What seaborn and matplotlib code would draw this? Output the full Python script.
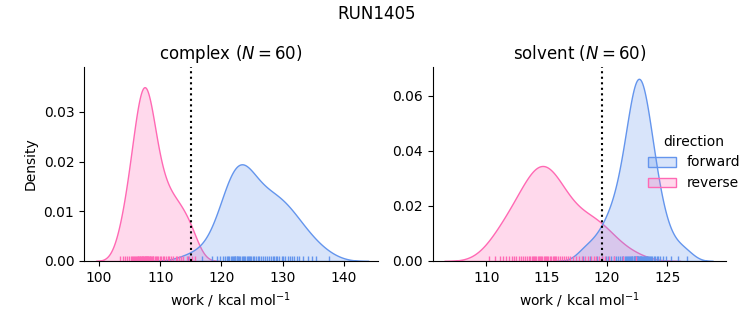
import matplotlib
matplotlib.use("Agg")
import matplotlib.pyplot as plt
import numpy as np
import pandas as pd
import seaborn as sns

# ---- data (work values read from the rug / density shapes) ----
complex_forward = [
    114.6, 116.8, 118.5,
    119.3, 119.8,
    120.3, 120.6, 120.9,
    121.1, 121.3, 121.5, 121.7, 121.9,
    122.1, 122.2, 122.3, 122.5, 122.6, 122.7, 122.9,
    123.1, 123.3, 123.5, 123.7, 123.9,
    124.1, 124.3, 124.5, 124.7, 124.9,
    125.2, 125.4, 125.6, 125.9,
    126.2, 126.5, 126.8,
    127.2, 127.5, 127.8,
    128.1, 128.4, 128.6, 128.9,
    129.1, 129.4, 129.9,
    130.1, 130.4, 130.9,
    131.2, 131.5, 131.8,
    132.3, 132.7, 133.4,
    134.2, 134.8, 135.5, 137.6,
]
complex_reverse = [
    103.4, 103.9,
    104.3, 104.6, 104.9,
    105.2, 105.4, 105.6, 105.8, 105.95,
    106.1, 106.2, 106.3, 106.45, 106.55, 106.65, 106.75, 106.85, 106.95,
    107.05, 107.15, 107.25, 107.35, 107.45, 107.55, 107.65, 107.75, 107.8,
    107.9, 107.95,
    108.05, 108.15, 108.3, 108.4, 108.5, 108.65, 108.8, 108.9,
    109.1, 109.3, 109.5, 109.7, 109.9,
    110.2, 110.45, 110.7, 110.9,
    111.2, 111.5, 111.8,
    112.1, 112.5, 112.8,
    113.1, 113.4, 113.8,
    114.3, 114.7,
    115.2, 115.7,
]
solvent_forward = [
    118.0, 118.6, 119.2, 119.6, 119.9, 120.1, 120.35, 120.6, 120.75, 120.9,
    121.1, 121.25, 121.35, 121.45,
    121.55, 121.65, 121.75, 121.8, 121.9, 121.95,
    122.05, 122.1, 122.2, 122.25, 122.3, 122.35, 122.4, 122.45, 122.48,
    122.52, 122.55, 122.6, 122.65, 122.7, 122.75, 122.8, 122.85, 122.9, 122.95,
    123.05, 123.1, 123.15, 123.2, 123.3, 123.35, 123.4, 123.45,
    123.55, 123.65, 123.75, 123.85, 123.95,
    124.1, 124.25, 124.4,
    124.6, 124.85,
    125.3, 125.9, 126.6,
]
solvent_reverse = [
    110.2, 110.7,
    111.1, 111.4, 111.6, 111.9,
    112.1, 112.3, 112.5, 112.7, 112.9,
    113.05, 113.2, 113.35, 113.5, 113.6, 113.75, 113.85, 113.95,
    114.05, 114.15, 114.25, 114.35, 114.45, 114.55, 114.65, 114.75, 114.85,
    114.95,
    115.05, 115.15, 115.25, 115.4, 115.5, 115.6, 115.7, 115.8, 115.95,
    116.1, 116.3, 116.45, 116.6, 116.75, 116.9,
    117.2, 117.45, 117.7, 117.9,
    118.15, 118.4, 118.65, 118.9,
    119.1, 119.35, 119.6, 119.85,
    120.2, 120.6, 121.3, 122.4,
]
phases = ["complex", "solvent"]
directions = ["forward", "reverse"]
estimate_complex = 115.0
estimate_solvent = 119.6
run_name = "RUN1405"

series = {
    ("complex", "forward"): complex_forward,
    ("complex", "reverse"): complex_reverse,
    ("solvent", "forward"): solvent_forward,
    ("solvent", "reverse"): solvent_reverse,
}
frames = []
for (ph, d), vals in series.items():
    frames.append(pd.DataFrame({"work": vals, "phase": ph, "direction": d}))
df = pd.concat(frames, ignore_index=True)

palette = {"forward": "cornflowerblue", "reverse": "hotpink"}

g = sns.displot(
    data=df, x="work", hue="direction", col="phase", kind="kde",
    fill=True, rug=True, palette=palette, hue_order=directions,
    col_order=phases, facet_kws=dict(sharex=False, sharey=False),
)
fig = g.figure
fig.set_size_inches(7.53, 3.25)
fig.set_dpi(100)
fig.subplots_adjust(left=84 / 753, right=726 / 753, bottom=1 - 261 / 325,
                    top=1 - 67 / 325, wspace=55 / 293.5)

estimates = {"complex": estimate_complex, "solvent": estimate_solvent}
xlims = {"complex": (97.55, 145.5), "solvent": (105.55, 129.85)}
ylims = {"complex": (0, 0.039), "solvent": (0, 0.0705)}
for ax, ph in zip(g.axes.flat, phases):
    n = int((df["phase"] == ph).sum() / len(directions))
    ax.set_title(f"{ph} ($N = {n}$)", fontsize=12)
    ax.axvline(estimates[ph], color="black", ls=":", lw=1.5)
    ax.set_xlim(*xlims[ph])
    ax.set_ylim(*ylims[ph])
    ax.set_xlabel("work / kcal mol$^{-1}$")
g.axes.flat[0].set_ylabel("Density")

sns.move_legend(g, "center right", bbox_to_anchor=(1.0, 0.5), frameon=False,
                title="direction")
fig.suptitle(run_name, fontsize=12, y=0.985)

fig.savefig("out.png", dpi=100)
